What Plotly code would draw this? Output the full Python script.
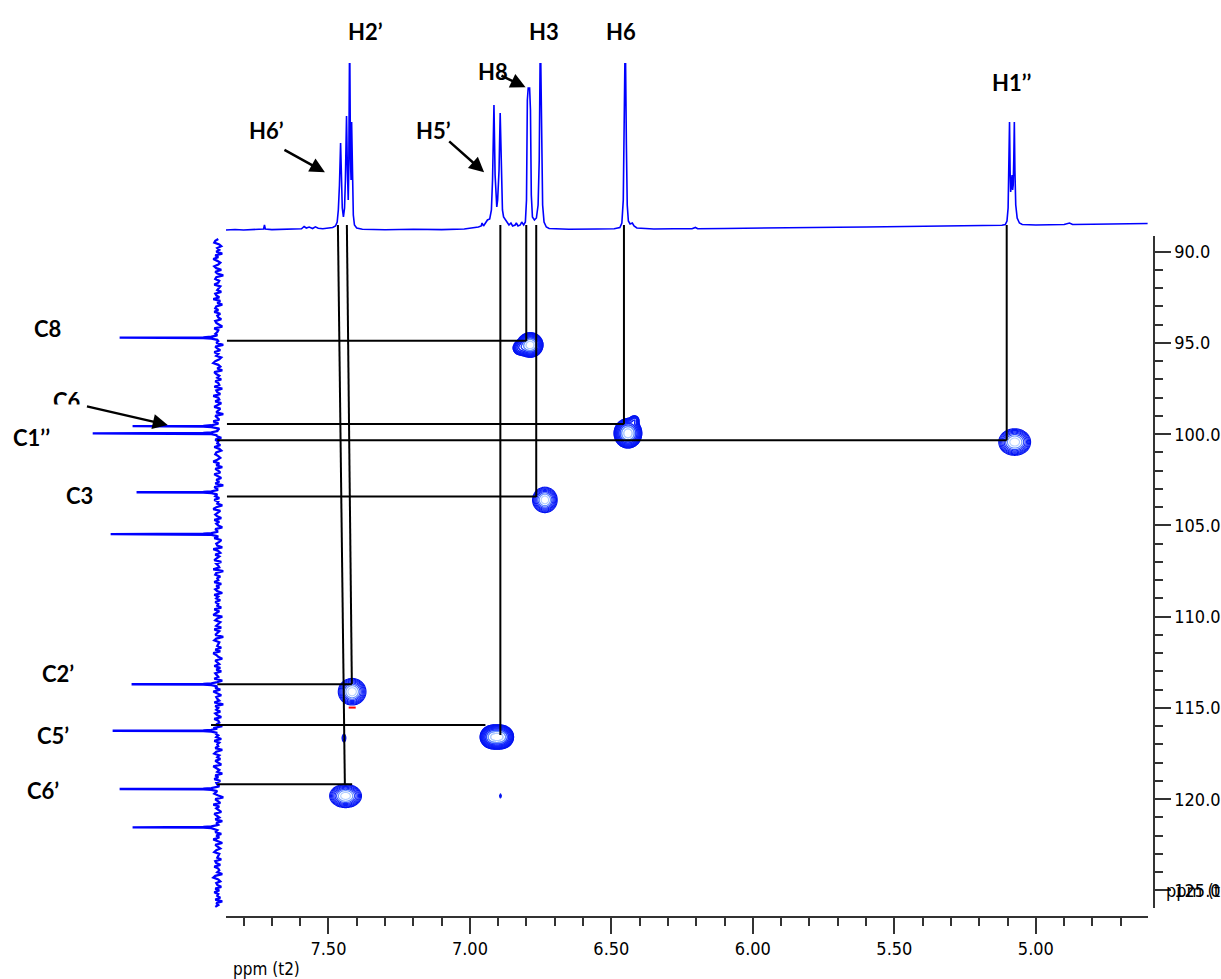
import numpy as np
import plotly.graph_objects as go

# ---------------- 1H projection (F2): ppm / relative height ----------------
h1_ppm = [7.862, 7.83, 7.80, 7.76, 7.735, 7.729, 7.726, 7.723, 7.70, 7.66, 7.62, 7.595,
          7.586, 7.578, 7.568, 7.556, 7.546, 7.536, 7.52, 7.50, 7.485, 7.475, 7.469,
          7.465, 7.461, 7.457, 7.454, 7.451, 7.447, 7.443, 7.440, 7.436, 7.433, 7.430,
          7.428, 7.425, 7.422, 7.420, 7.418, 7.415, 7.412, 7.408, 7.40, 7.38, 7.30,
          7.20, 7.10, 7.02, 6.99, 6.97, 6.960, 6.957, 6.952, 6.944, 6.938, 6.930,
          6.924, 6.920, 6.915, 6.911, 6.907, 6.905, 6.902, 6.897, 6.893, 6.889, 6.885,
          6.881, 6.875, 6.869, 6.862, 6.855, 6.849, 6.840, 6.836, 6.830, 6.822, 6.817,
          6.810, 6.804, 6.800, 6.797, 6.794, 6.789, 6.786, 6.783, 6.779, 6.772, 6.765,
          6.759, 6.755, 6.751, 6.747, 6.743, 6.738, 6.730, 6.72, 6.65, 6.55, 6.49,
          6.47, 6.463, 6.458, 6.455, 6.451, 6.447, 6.444, 6.440, 6.434, 6.426, 6.420,
          6.41, 6.35, 6.28, 6.215, 6.203, 6.195, 6.10, 6.00, 5.90, 5.80, 5.70, 5.60,
          5.50, 5.40, 5.30, 5.20, 5.15, 5.12, 5.108, 5.102, 5.098, 5.095, 5.093, 5.091,
          5.089, 5.086, 5.084, 5.082, 5.080, 5.078, 5.076, 5.074, 5.071, 5.066, 5.058,
          5.048, 5.00, 4.95, 4.90, 4.881, 4.87, 4.80, 4.75, 4.70, 4.65, 4.605]
h1_int = [0, 0.5, 0, 0.6, 0.3, 1, 5, 1, 0.4, 0.8, 0.6, 1.2,
          3.5, 2, 3, 1.5, 3.2, 1.8, 1.2, 1.6, 2.5, 4, 8,
          20, 45, 87, 45, 22, 13, 22, 50, 114, 60, 30,
          60, 200, 70, 50, 108, 45, 15, 5, 2, 0.8, 0.3,
          0.8, 0.4, 1, 2, 3, 4, 7, 4, 8, 10, 11,
          20, 50, 125, 55, 28, 23, 30, 60, 117, 50, 20,
          13, 10, 8, 5, 7, 4, 5, 7, 4, 5, 8,
          5, 8, 30, 130, 142, 142, 120, 35, 13, 10, 12,
          25, 70, 200, 80, 25, 8, 3, 1.5, 0.8, 1, 1.2,
          2.5, 7, 30, 90, 200, 85, 25, 9, 6, 7, 4,
          2, 1, 1.3, 1.2, 2.5, 1.3, 1.5, 2, 2.2, 2.5, 2.8, 3,
          3.3, 3.5, 3.8, 4, 4.3, 4.8, 5.5, 9, 22, 70, 108, 60,
          38, 48, 55, 40, 45, 70, 108, 60, 25, 12, 7,
          5.5, 5, 5.3, 5.5, 7, 5.5, 5.8, 6, 6.3, 6.5, 6.5]

# ---------------- 13C projection (F1) ----------------
c13_peak_ppm = [94.71, 99.56, 99.95, 103.18, 105.47, 113.70, 116.25, 119.44, 121.54]
c13_peak_int = [98, 85, 125, 81, 107, 86, 105, 98, 85]
c13_noise_first, c13_noise_step = 89.3, 0.1
c13_noise = [
    -1, 2, 3, -2, -4, 0, -2, 1, -5, 2, -1, 4, 0, -3, -1, 3, 1, -4, 2, 0,
    -6, 1, 2, -2, -1, 3, -3, -1, 0, -4, 2, 1, -2, 4, -3, 0, -5, 1, 2, -1,
    3, -3, 0, -1, -4, 2, 1, -2, -5, 3, -1, 0, 2, -3, 4, -2, -1, 1, -6, 2,
    0, -3, 3, -1, 1, -4, -2, 2, 4, -1, -3, 0, -5, 3, 1, -2, 0, -4, 2, -1,
    -2, 3, -5, 1, 0, -3, 4, -1, -2, 2, -4, 0, 3, -3, -1, 1, -6, 2, 0, -2,
    4, -1, -3, 2, -2, 0, -5, 3, 1, -4, 2, -1, 0, -3, 3, -2, -4, 1, 2, -1,
    -3, 0, 4, -2, 1, -5, 2, -1, -3, 3, 0, -4, 1, -2, 2, -6, 3, 0, -1, 1,
    -4, 2, -2, 3, -1, 0, -5, 1, 4, -3, -1, 2, 0, -4, 3, -2, 1, -1, -5, 2,
    0, -3, 2, -1, 3, -4, -2, 1, 0, -5, 4, -1, -3, 2, -2, 0, 3, -4, 1, -1,
    -2, 4, -6, 1, 2, -3, 0, -1, 3, -4, 1, -2, 2, 0, -5, 3, -1, 1, -3, 2,
    -1, 0, -4, 3, -2, 1, 4, -5, 0, 2, -3, -1, 1, -4, 3, -2, 0, 2, -6, 1,
    3, -2, -1, 0, -4, 2, -3, 4, 1, -1, -5, 2, 0, -2, 3, -3, 1, -4, 2, 0,
    -1, 3, -5, 1, -2, 0, 2, -3, 4, -1, -4, 1, 0, -2, 3, -6, 2, -1, 1, -3,
    2, 0, -4, 3, -1, -2, 1, -5, 4, 0, -3, 2, -1, 1, -4, 3, -2, 0, -1, 2,
    -5, 1, 3, -2, 0, -3, 2, -1, -4, 4, 1, -2, 0, -5, 2, -1, 3, -3, 1, 0,
    -2, 2, -4, 1, 3, -1, -6, 2, 0, -3, 4, -2, 1, -1, -4, 3, 0, -2, 2, -5,
    1, -1, 3, -3, 0, 2, -4, 1, -2, 4, -1, -5, 2, 0, -3, 1, 3, -2, -1, 0,
    -4, 2, 1, -3, 3, -1, -2, 0, -5, 2, 4, -1, -3, 1, 0, -4, 2, -2, 3, -1,
    0, -3, 2, -5, 1, -1, 2]

# ---------------- HSQC cross peaks (dH, dC, half-widths, relative amplitude) ----------------
xpk_h = [6.787, 6.825, 6.4415, 6.418, 6.735, 5.0748, 7.4162, 6.9206, 6.8889, 7.4394, 7.445, 6.892]
xpk_c = [95.11, 95.28, 99.95, 99.22, 103.60, 100.43, 114.11, 116.59, 116.59, 119.82, 116.65, 119.82]
xpk_wh = [0.0185, 0.0130, 0.0200, 0.0092, 0.0178, 0.0230, 0.0200, 0.0188, 0.0188, 0.0230, 0.005, 0.003]
xpk_wc = [0.275, 0.20, 0.33, 0.145, 0.285, 0.298, 0.298, 0.275, 0.275, 0.262, 0.16, 0.12]
xpk_amp = [20, 4, 20, 3, 20, 20, 20, 14, 14, 20, 2.5, 1.6]
neg_h, neg_c = [7.416], [114.98]

# ---------------- assignment lines ----------------
vline_h_top = [7.4665, 7.4348, 6.8924, 6.8008, 6.7656, 6.4556, 5.103]
vline_h_end = [7.4419, 7.4172, 6.8924, 6.8008, 6.7656, 6.4556, 5.103]
vline_c_end = [119.20, 113.69, 116.48, 94.89, 103.44, 99.44, 100.33]
hline_h_start = [7.8586, 7.8586, 7.8927, 7.8586, 7.8927, 7.9149, 7.8927]
hline_h_end = [6.8008, 6.4556, 5.103, 6.7656, 7.4172, 6.9452, 7.4162]
hline_c = [94.88, 99.44, 100.33, 103.42, 113.70, 115.93, 119.18]

x_tick_vals = [7.5, 7.0, 6.5, 6.0, 5.5, 5.0]
x_minor_vals = [7.8, 7.7, 7.6, 7.4, 7.3, 7.2, 7.1, 6.9, 6.8, 6.7, 6.6, 6.4, 6.3, 6.2, 6.1,
                5.9, 5.8, 5.7, 5.6, 5.4, 5.3, 5.2, 5.1, 4.9, 4.8, 4.7]
y_tick_vals = [90, 95, 100, 105, 110, 115, 120, 125]
y_minor_vals = [v for v in range(91, 126) if v % 5]

# ---------------- page geometry ----------------
W, H = 1221, 979
H_REF_PPM, H_REF_PX, H_SCALE = 7.50, 329.5, 283.9   # px per ppm along F2
C_REF_PPM, C_REF_PX, C_SCALE = 90.0, 251.7, 18.25   # px per ppm along F1


def h_at(px):
    return H_REF_PPM - (px - H_REF_PX) / H_SCALE


def c_at(py):
    return C_REF_PPM + (py - C_REF_PX) / C_SCALE


def xdom(a, b):
    return [a / W, b / W]


def ydom(top, bottom):
    return [(H - bottom) / H, (H - top) / H]


BLUE = "#0000ff"
AX = "#333333"
TICKFONT = dict(family="Liberation Sans Narrow, DejaVu Sans Condensed, Arial Narrow, sans-serif",
                size=18, color="black")
LABFONT = dict(family="Lato, Open Sans, sans-serif", size=22, color="black", weight="bold")

fig = go.Figure()

# cross-peak contours (log-spaced levels)
for hc, cc in zip(xpk_h, xpk_c):
    gx = np.linspace(hc - 0.09, hc + 0.09, 73)
    gy = np.linspace(cc - 1.6, cc + 1.6, 81)
    X, Y = np.meshgrid(gx, gy)
    Z = np.zeros_like(X)
    for h0, c0, wh, wc, a in zip(xpk_h, xpk_c, xpk_wh, xpk_wc, xpk_amp):
        Z += a * np.exp(-0.5 * (((X - h0) / wh) ** 2 + ((Y - c0) / wc) ** 2))
    fig.add_trace(go.Contour(
        x=gx, y=gy, z=np.log(Z + 1e-9), xaxis="x", yaxis="y",
        contours=dict(start=0.0, end=2.75, size=0.34, coloring="lines"),
        colorscale=[[0, "#0010f0"], [0.7, "#1428ff"], [0.82, "#4a78ff"], [1, "#b0ccff"]],
        zmin=0, zmax=3.0, zauto=False, showscale=False,
        line=dict(width=1.1, smoothing=0.85), hoverinfo="skip"))

fig.add_trace(go.Scatter(x=neg_h, y=neg_c, xaxis="x", yaxis="y", mode="markers",
                         marker=dict(symbol="line-ew", size=5, line=dict(width=2, color="red")),
                         hoverinfo="skip"))

# 1H projection on top
fig.add_trace(go.Scatter(x=h1_ppm, y=h1_int, xaxis="x5", yaxis="y2", mode="lines",
                         line=dict(color=BLUE, width=1.6), hoverinfo="skip"))

# 13C projection on the left
pts = []
for i, v in enumerate(c13_noise):
    p = c13_noise_first + i * c13_noise_step
    if min(abs(p - q) for q in c13_peak_ppm) > 0.12:
        pts.append((p, v))
for p, a in zip(c13_peak_ppm, c13_peak_int):
    pts += [(p - 0.12, 0), (p - 0.05, 6), (p - 0.02, 14), (p, a),
            (p + 0.02, 14), (p + 0.05, 6), (p + 0.12, 0)]
pts.sort()
fig.add_trace(go.Scatter(x=[v for _, v in pts], y=[p for p, _ in pts], xaxis="x3", yaxis="y5",
                         mode="lines", line=dict(color=BLUE, width=2.3), hoverinfo="skip"))

# assignment lines
top_c = c_at(225)
for ht, hb, ce in zip(vline_h_top, vline_h_end, vline_c_end):
    fig.add_trace(go.Scatter(x=[ht, hb], y=[top_c, ce], xaxis="x5", yaxis="y5", mode="lines",
                             line=dict(color="black", width=2), hoverinfo="skip"))
for hs, he, cc in zip(hline_h_start, hline_h_end, hline_c):
    fig.add_trace(go.Scatter(x=[hs, he], y=[cc, cc], xaxis="x5", yaxis="y5", mode="lines",
                             line=dict(color="black", width=2), hoverinfo="skip"))

axis_common = dict(showgrid=False, zeroline=False, showline=True, linecolor=AX, linewidth=1.5,
                   ticks="outside", ticklen=16, tickwidth=1.5, tickcolor=AX, tickfont=TICKFONT,
                   fixedrange=True)

fig.update_layout(
    width=W, height=H, margin=dict(l=0, r=0, t=0, b=0),
    paper_bgcolor="white", plot_bgcolor="rgba(0,0,0,0)", showlegend=False,
    xaxis=dict(domain=xdom(226.7, 1151.7), range=[h_at(226.7), h_at(1151.7)],
               anchor="free", position=1 - 917 / H, side="bottom",
               tickmode="array", tickvals=x_tick_vals, ticktext=[f"{v:.2f}" for v in x_tick_vals],
               minor=dict(tickmode="array", tickvals=x_minor_vals, ticks="outside", ticklen=8,
                          tickwidth=1.5, tickcolor=AX, showgrid=False),
               **axis_common),
    yaxis=dict(domain=ydom(236, 908), range=[c_at(908), c_at(236)],
               anchor="free", position=1157.7 / W, side="right",
               tickmode="array", tickvals=y_tick_vals, ticktext=[f"{v:.1f}" for v in y_tick_vals],
               minor=dict(tickmode="array", tickvals=y_minor_vals, ticks="outside", ticklen=8,
                          tickwidth=1.5, tickcolor=AX, showgrid=False),
               **axis_common),
    xaxis5=dict(domain=[0, 1], range=[h_at(0), h_at(W)], visible=False, anchor="y5", fixedrange=True),
    yaxis5=dict(domain=[0, 1], range=[c_at(H), c_at(0)], visible=False, anchor="x5", fixedrange=True),
    yaxis2=dict(domain=ydom(63, 240), range=[-10, 167], visible=False, anchor="x5", fixedrange=True),
    xaxis3=dict(domain=xdom(80, 226.7), range=[138, -8.7], visible=False, anchor="y5", fixedrange=True),
)

anns = []


def label(txt, cx, cy):
    anns.append(dict(text=txt, x=cx / W, y=1 - cy / H, xref="paper", yref="paper",
                     showarrow=False, xanchor="center", yanchor="middle", font=LABFONT))


def arrow(tail, tip):
    anns.append(dict(text="", x=tip[0] / W, y=1 - tip[1] / H, xref="paper", yref="paper",
                     ax=tail[0] - tip[0], ay=tail[1] - tip[1], axref="pixel", ayref="pixel",
                     showarrow=True, arrowhead=2, arrowsize=1.2, arrowwidth=2.5,
                     arrowcolor="black", standoff=0, startstandoff=0))


label("H2’", 367, 31)
label("H3", 546, 31)
label("H6", 623, 31)
label("H8", 494.5, 71)
label("H6’", 267.5, 130)
label("H5’", 435, 130)
label("H1’’", 1015, 83)
label("C8", 48, 328)
label("C6", 67, 400)
anns.append(dict(text=" ", x=67 / W, y=1 - 411 / H, xref="paper", yref="paper", showarrow=False,
                 width=38, height=11, bgcolor="white", xanchor="center", yanchor="middle"))
label("C1’’", 32, 437)
label("C3", 80, 495)
label("C2’", 58, 673)
label("C5’", 53, 735)
label("C6’", 43, 790)
arrow((284, 149), (326, 172.3))
arrow((449.3, 140), (485.7, 172.3))
arrow((501.7, 75), (527.3, 87.3))
arrow((86, 406), (168.3, 425))

anns.append(dict(text="ppm (t2)", x=232 / W, y=1 - 969 / H, xref="paper", yref="paper",
                 showarrow=False, xanchor="left", yanchor="middle",
                 font=dict(TICKFONT, size=17)))
anns.append(dict(text="ppm (t1)", x=1168 / W, y=1 - 890.5 / H, xref="paper", yref="paper",
                 showarrow=False, xanchor="left", yanchor="middle", font=TICKFONT))
fig.update_layout(annotations=anns)

fig.write_html("out.html")
